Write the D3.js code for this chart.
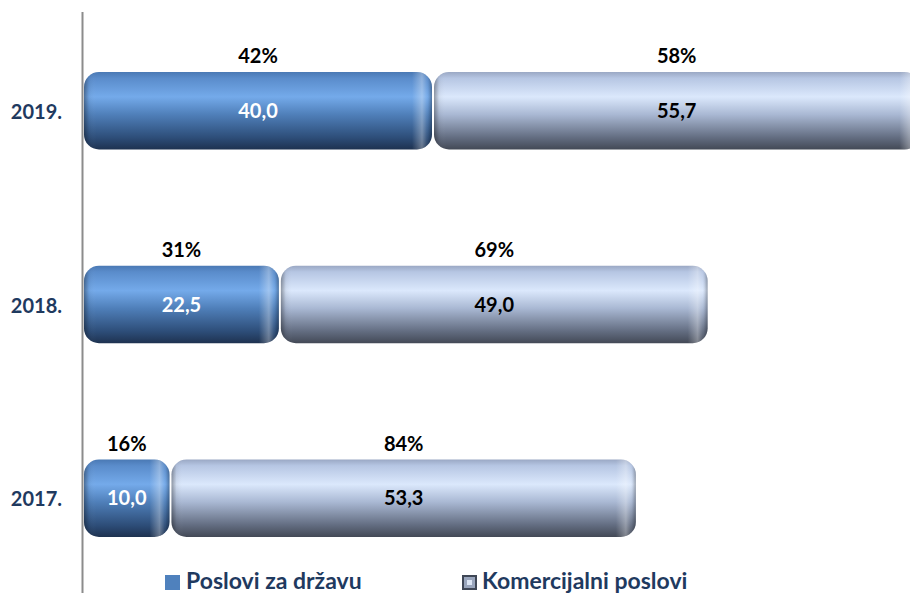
<!DOCTYPE html>
<html>
<head>
<meta charset="utf-8">
<script src="https://cdn.jsdelivr.net/npm/d3@7"></script>
<style>
  body { margin: 0; background: #fff; }
  svg { display: block; font-family: Lato, "Open Sans", sans-serif; font-weight: bold; }
</style>
</head>
<body>
<svg width="910" height="593"></svg>
<script>
// data
var years = ['2019.', '2018.', '2017.'];
var drzava = [40.0, 22.5, 10.0];
var komercijalni = [55.7, 49.0, 53.3];
var pctDrzava = ['42%', '31%', '16%'];
var pctKomerc = ['58%', '69%', '84%'];
var seriesNames = ['Poslovi za državu', 'Komercijalni poslovi'];

var svg = d3.select('svg');
var defs = svg.append('defs');

function vgrad(id, stops) {
  var g = defs.append('linearGradient').attr('id', id)
    .attr('x1', 0).attr('y1', 0).attr('x2', 0).attr('y2', 1);
  stops.forEach(function(s) {
    g.append('stop').attr('offset', s[0]).attr('stop-color', s[1]);
  });
}
vgrad('gBlue', [[0, '#4a79b4'], [0.08, '#5a8ccb'], [0.32, '#74aaea'], [0.55, '#4f7fb9'], [0.85, '#2d4d78'], [1, '#1e3250']]);
vgrad('gGrey', [[0, '#9aa8c4'], [0.08, '#b6c6e3'], [0.32, '#dbe8fc'], [0.55, '#a9b8d3'], [0.85, '#626c80'], [1, '#434956']]);

var x = d3.scaleLinear().domain([0, 100]).range([83, 958]);
var y = d3.scaleBand().domain(years).range([72, 537]).paddingInner(0.6);

var rows = years.map(function(yr, i) {
  return [
    {year: yr, x0: 0, x1: drzava[i], val: drzava[i], pct: pctDrzava[i], s: 0},
    {year: yr, x0: drzava[i], x1: drzava[i] + komercijalni[i], val: komercijalni[i], pct: pctKomerc[i], s: 1}
  ];
});
var segs = [].concat.apply([], rows);

// per segment end shading (rounded, embossed ends)
segs.forEach(function(d, i) {
  var a = x(d.x0) + 1, b = x(d.x1) - 1;
  var g = defs.append('linearGradient').attr('id', 'gEdge' + i)
    .attr('gradientUnits', 'userSpaceOnUse')
    .attr('x1', a).attr('y1', 0).attr('x2', b).attr('y2', 0);
  var w = b - a;
  [[0, 'rgba(0,0,0,0.35)'], [5, 'rgba(0,0,0,0.05)'], [12, 'rgba(255,255,255,0)'],
   [w - 20, 'rgba(255,255,255,0)'], [w - 10, 'rgba(255,255,255,0.32)'], [w - 5, 'rgba(255,255,255,0.05)'],
   [w - 3, 'rgba(0,0,0,0.08)'], [w, 'rgba(0,0,0,0.3)']]
    .forEach(function(s) {
      g.append('stop').attr('offset', Math.max(0, Math.min(1, s[0] / w))).attr('stop-color', s[1]);
    });
});

// axis line
svg.append('line')
  .attr('x1', 82.5).attr('x2', 82.5).attr('y1', 12).attr('y2', 593)
  .attr('stroke', '#8c8c8c').attr('stroke-width', 2);

var bars = svg.selectAll('g.seg')
  .data(segs)
  .enter()
  .append('g')
  .attr('class', 'seg');

bars.append('rect')
  .attr('x', function(d) { return x(d.x0) + 1; })
  .attr('y', function(d) { return y(d.year); })
  .attr('width', function(d) { return x(d.x1) - x(d.x0) - 2; })
  .attr('height', y.bandwidth())
  .attr('rx', 15).attr('ry', 15)
  .attr('fill', function(d) { return d.s == 0 ? 'url(#gBlue)' : 'url(#gGrey)'; });

bars.append('rect')
  .attr('x', function(d) { return x(d.x0) + 1; })
  .attr('y', function(d) { return y(d.year); })
  .attr('width', function(d) { return x(d.x1) - x(d.x0) - 2; })
  .attr('height', y.bandwidth())
  .attr('rx', 15).attr('ry', 15)
  .attr('fill', function(d, i) { return 'url(#gEdge' + i + ')'; });

bars.append('text')
  .attr('x', function(d) { return (x(d.x0) + x(d.x1)) / 2; })
  .attr('y', function(d) { return y(d.year) + y.bandwidth() / 2 + 7; })
  .attr('text-anchor', 'middle')
  .attr('font-size', 20)
  .attr('fill', function(d) { return d.s == 0 ? '#fff' : '#000'; })
  .text(function(d) { return d.val.toFixed(1).replace('.', ','); });

bars.append('text')
  .attr('x', function(d) { return (x(d.x0) + x(d.x1)) / 2; })
  .attr('y', function(d) { return y(d.year) - 9; })
  .attr('text-anchor', 'middle')
  .attr('font-size', 20)
  .attr('fill', '#000')
  .text(function(d) { return d.pct; });

// year labels
svg.selectAll('text.year')
  .data(years)
  .enter()
  .append('text')
  .attr('class', 'year')
  .attr('x', 62)
  .attr('y', function(d) { return y(d) + y.bandwidth() / 2 + 8; })
  .attr('text-anchor', 'end')
  .attr('font-size', 20)
  .attr('fill', '#1f3a5f')
  .text(function(d) { return d; });

// legend
var leg = svg.append('g').attr('font-size', 23).attr('fill', '#1f3a5f');
leg.append('rect').attr('x', 165).attr('y', 575).attr('width', 15).attr('height', 15).attr('fill', '#4f81bd');
leg.append('text').attr('x', 186).attr('y', 589).text(seriesNames[0]);
leg.append('rect').attr('x', 463).attr('y', 576).attr('width', 13).attr('height', 13)
  .attr('fill', '#9aa6bd').attr('stroke', '#3f4756').attr('stroke-width', 2);
leg.append('rect').attr('x', 467).attr('y', 580).attr('width', 5).attr('height', 5).attr('fill', '#dde6f5');
leg.append('text').attr('x', 482).attr('y', 589).text(seriesNames[1]);
</script>
</body>
</html>
